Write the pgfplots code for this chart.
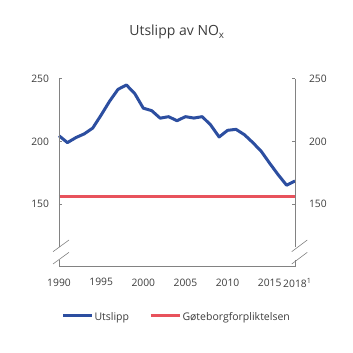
\documentclass[border=0pt]{standalone}
\usepackage{pgfplots}
\pgfplotsset{compat=1.18}
\usepackage{fontspec}
\setmainfont{Open Sans}
\definecolor{lblue}{RGB}{44,78,160}
\definecolor{lred}{RGB}{232,82,92}
\definecolor{axgray}{RGB}{130,130,130}
\definecolor{txt}{RGB}{60,60,60}
\begin{document}
\begin{tikzpicture}[x=1pt,y=1pt]
\useasboundingbox (-59,-86.3) rectangle (294,266.7);
\begin{axis}[
  at={(0,0)}, anchor=south west,
  scale only axis, width=236pt, height=188pt,
  xmin=1990, xmax=2018, ymin=100, ymax=250,
  axis line style={draw=none},
  xtick={1990,1995,2000,2005,2010,2015,2018},
  xticklabels={1990,1995,2000,2005,2010,2015,2018\rlap{\textsuperscript{1}}},
  ytick={150,200,250},
  xtick style={draw=none},
  ytick style={draw=axgray, line width=0.8pt},
  tick align=inside, major tick length=3pt,
  ytick pos=left,
  ticklabel style={font=\fontsize{10.3}{12}\selectfont, text=txt},
  /pgf/number format/assume math mode=true,
  /pgf/number format/1000 sep={},
  xticklabel style={yshift=-8.3pt},
  yticklabel style={xshift=-6.5pt},
  clip=false,
]
\addplot[lred, line width=2.8pt] coordinates {(1990,156) (2018,156)};
\addplot[lblue, line width=3pt, line join=round] coordinates {
(1990,204.5) (1991,199) (1992,203) (1993,206) (1994,210.6) (1995,221)
(1996,232) (1997,241.5) (1998,245) (1999,238) (2000,226.5) (2001,224.5)
(2002,218.5) (2003,219.7) (2004,216.5) (2005,219.7) (2006,218.6) (2007,219.7)
(2008,213) (2009,203.5) (2010,208.8) (2011,209.6) (2012,205.3) (2013,199)
(2014,192) (2015,182.5) (2016,173.4) (2017,165) (2018,168.4)};
\end{axis}
\begin{axis}[
  at={(0,0)}, anchor=south west,
  scale only axis, width=236pt, height=188pt,
  xmin=1990, xmax=2018, ymin=100, ymax=250,
  axis line style={draw=none},
  xtick=\empty,
  ytick={150,200,250},
  ytick style={draw=axgray, line width=0.8pt},
  tick align=inside, major tick length=3pt,
  ytick pos=right, yticklabel pos=right,
  ticklabel style={font=\fontsize{10.3}{12}\selectfont, text=txt},
  /pgf/number format/assume math mode=true,
  yticklabel style={xshift=10.5pt},
]
\end{axis}
% axis lines with breaks
\draw[axgray, line width=0.8pt] (0,188) -- (0,19.4);
\draw[axgray, line width=0.8pt] (0,7.1) -- (0,0) -- (236,0) -- (236,7.1);
\draw[axgray, line width=0.8pt] (236,19.4) -- (236,188);
\draw[axgray, line width=0.6pt] (-6,15) -- (10,26.7);
\draw[axgray, line width=0.6pt] (-6,2.7) -- (10,14.4);
\draw[axgray, line width=0.6pt] (232.7,15) -- (248.3,26.7);
\draw[axgray, line width=0.6pt] (232.7,2.7) -- (248.3,14.4);
% title
\node[anchor=base, text=txt, font=\fontsize{14}{16}\selectfont, inner sep=0] at (118,230.7) {Utslipp av NO\textsubscript{x}};
% legend
\draw[lblue, line width=2.5pt] (4.3,-49) -- (32.7,-49);
\node[anchor=base west, inner sep=0, text=txt, font=\fontsize{10.5}{13}\selectfont] at (35.3,-54) {Utslipp};
\draw[lred, line width=2.5pt] (91.7,-49) -- (121,-49);
\node[anchor=base west, inner sep=0, text=txt, font=\fontsize{10.5}{13}\selectfont] at (123.3,-54) {Gøteborgforpliktelsen};
\end{tikzpicture}
\end{document}
